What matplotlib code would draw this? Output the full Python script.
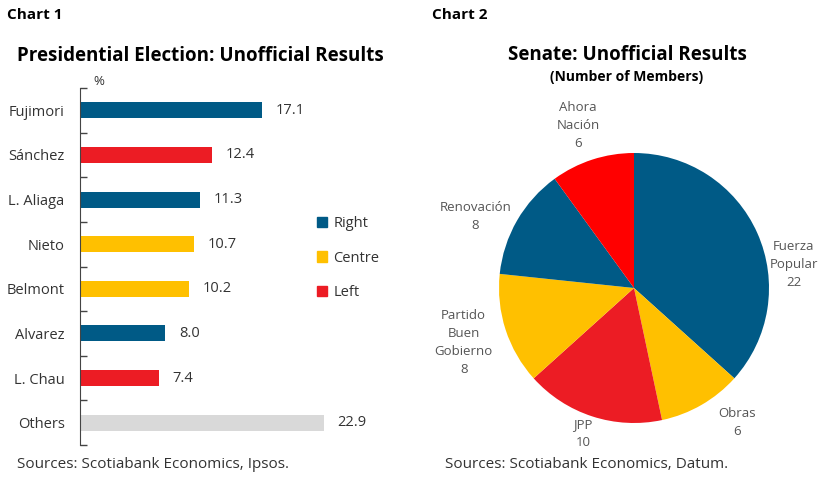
import matplotlib.pyplot as plt
import numpy as np
from matplotlib.patches import Patch

plt.rcParams['font.family'] = ['Open Sans', 'DejaVu Sans']

# chart 1 data
candidates = ['Fujimori', 'Sánchez', 'L. Aliaga', 'Nieto', 'Belmont', 'Alvarez', 'L. Chau', 'Others']
votes = [17.1, 12.4, 11.3, 10.7, 10.2, 8.0, 7.4, 22.9]
leaning = ['Right', 'Left', 'Right', 'Centre', 'Centre', 'Right', 'Left', 'Other']

# chart 2 data
parties = ['Fuerza\nPopular', 'Obras', 'JPP', 'Partido\nBuen\nGobierno', 'Renovación', 'Ahora\nNación']
seats = [22, 6, 10, 8, 8, 6]
party_colors = ['#005A86', '#FFC000', '#EC1C24', '#FFC000', '#005A86', '#FF0000']
# label anchoring around the pie (Excel-like), nudges in pixels
label_ha = ['left', 'left', 'center', 'right', 'right', 'center']
label_va = ['top', 'top', 'top', 'center', 'center', 'bottom']
label_nudge = [(0, -12), (10, 10), (-5, 11), (0, -9), (6, -3), (-10, -3)]

lean_colors = {'Right': '#005A86', 'Centre': '#FFC000', 'Left': '#EC1C24', 'Other': '#D9D9D9'}
txt = '#333333'

W, H = 828, 483
fig = plt.figure(figsize=(W / 100, H / 100), dpi=100)

fig.text(7 / W, 1 - 15 / H, 'Chart 1', fontsize=11, fontweight='bold', va='center', ha='left')
fig.text(432 / W, 1 - 15 / H, 'Chart 2', fontsize=11, fontweight='bold', va='center', ha='left')

# ---- bar chart
ax = fig.add_axes([80 / W, 38 / H, 266 / W, 357 / H])
ypos = np.arange(len(candidates))
ax.barh(ypos, votes, height=0.36, color=[lean_colors[l] for l in leaning])
for y, v in zip(ypos, votes):
    ax.text(v + 1.3, y, f'{v:.1f}', va='center', ha='left', fontsize=10.5, color=txt)
ax.set_xlim(0, 25)
ax.set_ylim(len(candidates) - 0.5, -0.5)
ax.set_yticks(ypos)
ax.set_yticklabels(candidates, fontsize=10.5, color=txt)
ax.tick_params(axis='y', which='major', length=0, pad=11)
ax.set_yticks(np.arange(-0.5, len(candidates)), minor=True)
ax.tick_params(axis='y', which='minor', direction='in', length=5, color='#444444', width=1)
ax.set_xticks([])
for s in ['top', 'right', 'bottom']:
    ax.spines[s].set_visible(False)
ax.spines['left'].set_color('#444444')
ax.text(1.3, -0.5, '%', fontsize=9.5, color=txt, va='bottom', ha='left')
fig.text(17 / W, 1 - 56 / H, 'Presidential Election: Unofficial Results', fontsize=13.5,
         fontweight='bold', va='center', ha='left')
handles = [Patch(color=lean_colors[k]) for k in ['Right', 'Centre', 'Left']]
fig.legend(handles, ['Right', 'Centre', 'Left'], loc='center left',
           bbox_to_anchor=(304 / W, 1 - 258 / H), frameon=False, fontsize=10.5,
           handlelength=0.7, handleheight=0.7, handletextpad=0.4, labelspacing=1.35,
           labelcolor=txt)
fig.text(17 / W, 1 - 465 / H, 'Sources: Scotiabank Economics, Ipsos.', fontsize=11,
         color=txt, va='center', ha='left')

# ---- pie chart
cx, cy, r = 634, 288, 135
pax = fig.add_axes([(cx - r) / W, (H - cy - r) / H, 2 * r / W, 2 * r / H])
wedges, _ = pax.pie(seats, colors=party_colors, startangle=90, counterclock=False)
for w, p, s, ha, va, nd in zip(wedges, parties, seats, label_ha, label_va, label_nudge):
    mid = np.deg2rad((w.theta1 + w.theta2) / 2)
    pax.annotate(f'{p}\n{s}', (1.1 * np.cos(mid), 1.1 * np.sin(mid)),
                 xytext=(nd[0] * 0.72, nd[1] * 0.72), textcoords='offset points',
                 ha=ha, va=va, multialignment='center', fontsize=9.5,
                 color='#555555', linespacing=1.5, annotation_clip=False)
pax.set_xlim(-1, 1)
pax.set_ylim(-1, 1)
pax.set_aspect('equal')

fig.text(627 / W, 1 - 55 / H, 'Senate: Unofficial Results', fontsize=13.5, fontweight='bold',
         va='center', ha='center')
fig.text(627 / W, 1 - 77 / H, '(Number of Members)', fontsize=10, fontweight='bold',
         va='center', ha='center')
fig.text(445 / W, 1 - 465 / H, 'Sources: Scotiabank Economics, Datum.', fontsize=11,
         color=txt, va='center', ha='left')

fig.savefig('out.png', dpi=100)
